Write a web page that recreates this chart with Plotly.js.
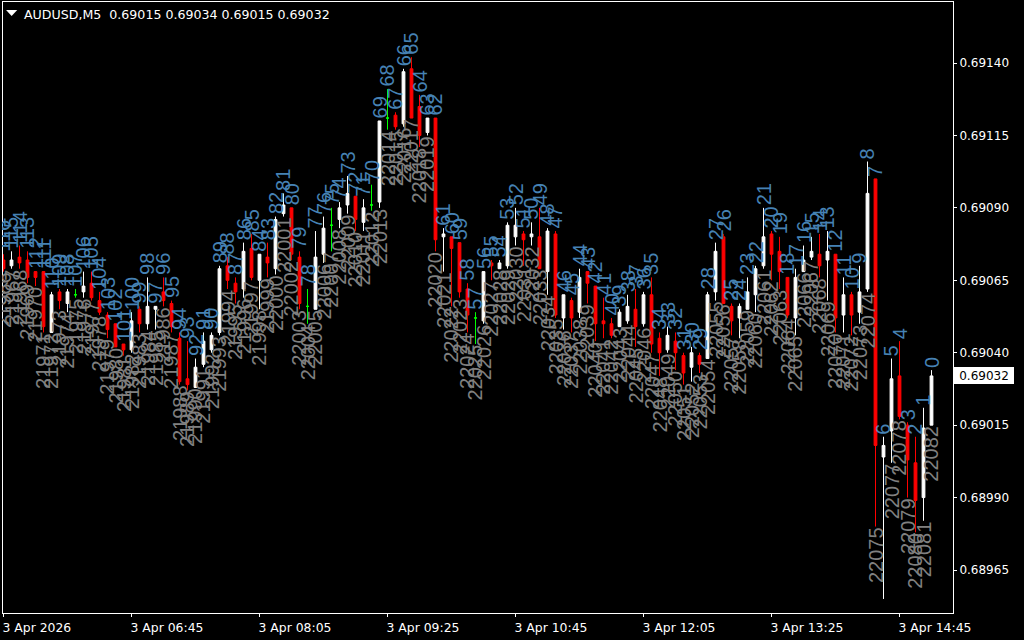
<!DOCTYPE html>
<html>
<head>
<meta charset="utf-8">
<script src="https://cdn.plot.ly/plotly-3.0.1.min.js"></script>
<style>
html,body{margin:0;padding:0;background:#000;overflow:hidden}
#chart{position:absolute;left:0;top:0;width:1024px;height:640px}
#edge{position:absolute;left:0;top:0;width:2px;height:640px;background:#000}
</style>
</head>
<body>
<div id="chart"></div>
<div id="edge"></div>
<script>
const opens = [0.69072,0.69070,0.69073,0.69072,0.69068,0.69068,0.69047,0.69061,0.69057,0.69060,
0.69061,0.69064,0.69058,0.69053,0.69050,0.69043,0.69041,0.69055,0.69050,0.69055,
0.69061,0.69057,0.69045,0.69031,0.69028,0.69036,0.69041,0.69047,0.69070,0.69064,
0.69062,0.69076,0.69065,0.69073,0.69069,0.69088,0.69090,0.69073,0.69056,0.69055,
0.69074,0.69084,0.69086,0.69091,0.69094,0.69085,0.69091,0.69092,0.69121,0.69122,
0.69119,0.69138,0.69125,0.69116,0.69121,0.69080,0.69080,0.69078,0.69062,0.69052,
0.69051,0.69071,0.69069,0.69070,0.69080,0.69081,0.69080,0.69080,0.69068,0.69081,
0.69052,0.69058,0.69054,0.69068,0.69063,0.69051,0.69050,0.69049,0.69051,0.69055,
0.69050,0.69060,0.69045,0.69041,0.69044,0.69039,0.69035,0.69039,0.69038,0.69061,
0.69080,0.69056,0.69052,0.69055,0.69060,0.69070,0.69081,0.69075,0.69066,0.69052,
0.69068,0.69073,0.69074,0.69072,0.69074,0.69053,0.69060,0.69054,0.69062,0.69100,
0.69004,0.69013,0.69032,0.69015,0.69002,0.68990,0.69015];
const highs = [0.69074,0.69075,0.69077,0.69075,0.69068,0.69068,0.69061,0.69062,0.69062,0.69062,
0.69068,0.69068,0.69061,0.69054,0.69050,0.69043,0.69054,0.69056,0.69066,0.69056,
0.69066,0.69058,0.69047,0.69044,0.69038,0.69047,0.69047,0.69070,0.69073,0.69066,
0.69078,0.69081,0.69074,0.69078,0.69087,0.69095,0.69090,0.69075,0.69062,0.69082,
0.69087,0.69090,0.69092,0.69101,0.69094,0.69093,0.69098,0.69120,0.69131,0.69123,
0.69138,0.69142,0.69129,0.69121,0.69121,0.69083,0.69080,0.69078,0.69064,0.69054,
0.69068,0.69072,0.69072,0.69085,0.69090,0.69082,0.69085,0.69090,0.69083,0.69082,
0.69060,0.69059,0.69069,0.69068,0.69063,0.69059,0.69052,0.69055,0.69060,0.69062,
0.69061,0.69066,0.69047,0.69049,0.69047,0.69040,0.69042,0.69040,0.69061,0.69078,
0.69081,0.69057,0.69057,0.69066,0.69070,0.69090,0.69082,0.69080,0.69066,0.69069,
0.69077,0.69080,0.69081,0.69082,0.69074,0.69066,0.69061,0.69070,0.69106,0.69100,
0.69011,0.69038,0.69044,0.69016,0.69011,0.69021,0.69034];
const lows = [0.69068,0.69069,0.69069,0.69064,0.69063,0.69047,0.69047,0.69055,0.69054,0.69059,
0.69059,0.69058,0.69053,0.69045,0.69042,0.69039,0.69040,0.69047,0.69048,0.69048,
0.69056,0.69047,0.69029,0.69027,0.69028,0.69035,0.69040,0.69046,0.69062,0.69057,
0.69059,0.69065,0.69055,0.69066,0.69067,0.69087,0.69072,0.69055,0.69050,0.69055,
0.69071,0.69075,0.69083,0.69088,0.69082,0.69082,0.69089,0.69090,0.69117,0.69117,
0.69118,0.69121,0.69111,0.69115,0.69075,0.69068,0.69056,0.69059,0.69047,0.69043,
0.69050,0.69065,0.69069,0.69069,0.69077,0.69070,0.69077,0.69069,0.69060,0.69052,
0.69048,0.69047,0.69052,0.69057,0.69044,0.69045,0.69045,0.69049,0.69050,0.69042,
0.69049,0.69040,0.69032,0.69040,0.69034,0.69029,0.69030,0.69033,0.69038,0.69058,
0.69057,0.69046,0.69045,0.69055,0.69054,0.69069,0.69065,0.69062,0.69052,0.69046,
0.69068,0.69072,0.69066,0.69058,0.69047,0.69047,0.69046,0.69050,0.69061,0.68980,
0.68955,0.69002,0.69017,0.68990,0.68978,0.68982,0.69015];
const closes = [0.69069,0.69072,0.69071,0.69066,0.69066,0.69049,0.69060,0.69058,0.69061,0.69060,
0.69063,0.69059,0.69054,0.69048,0.69042,0.69041,0.69051,0.69050,0.69056,0.69056,
0.69058,0.69049,0.69030,0.69029,0.69035,0.69044,0.69046,0.69069,0.69065,0.69061,
0.69075,0.69066,0.69074,0.69071,0.69086,0.69091,0.69074,0.69057,0.69056,0.69073,
0.69083,0.69084,0.69090,0.69095,0.69086,0.69090,0.69091,0.69120,0.69121,0.69118,
0.69137,0.69121,0.69115,0.69121,0.69079,0.69081,0.69076,0.69061,0.69053,0.69052,
0.69068,0.69070,0.69071,0.69084,0.69084,0.69079,0.69081,0.69069,0.69082,0.69053,
0.69060,0.69052,0.69066,0.69064,0.69050,0.69050,0.69046,0.69054,0.69056,0.69049,
0.69060,0.69043,0.69040,0.69046,0.69040,0.69033,0.69040,0.69036,0.69060,0.69075,
0.69057,0.69051,0.69056,0.69061,0.69069,0.69080,0.69074,0.69068,0.69053,0.69066,
0.69072,0.69075,0.69070,0.69075,0.69052,0.69060,0.69053,0.69061,0.69095,0.69008,
0.69008,0.69031,0.69018,0.69003,0.68989,0.69014,0.69032];
const barNumbers = [116,115,114,113,112,111,110,109,108,107,106,105,104,103,102,101,100,99,98,97,96,95,94,93,92,91,90,89,88,87,86,85,84,83,82,81,80,79,78,77,76,75,74,73,72,71,70,69,68,67,66,65,64,63,62,61,60,59,58,57,56,55,54,53,52,51,50,49,48,47,46,45,44,43,42,41,40,39,38,37,36,35,34,33,32,31,30,29,28,27,26,25,24,23,22,21,20,19,18,17,16,15,14,13,12,11,10,9,8,7,6,5,4,3,2,1,0];
const barCounts = [21966,21967,21968,21969,21970,21971,21972,21973,21974,21975,21976,21977,21978,21979,21980,21981,21982,21983,21984,21985,21986,21987,21988,21989,21990,21991,21992,21993,21994,21995,21996,21997,21998,21999,22000,22001,22002,22003,22004,22005,22006,22007,22008,22009,22010,22011,22012,22013,22014,22015,22016,22017,22018,22019,22020,22021,22022,22023,22024,22025,22026,22027,22028,22029,22030,22031,22032,22033,22034,22035,22036,22037,22038,22039,22040,22041,22042,22043,22044,22045,22046,22047,22048,22049,22050,22051,22052,22053,22054,22055,22056,22057,22058,22059,22060,22061,22062,22063,22064,22065,22066,22067,22068,22069,22070,22071,22072,22073,22074,22075,null,22077,22078,22079,22080,22081,22082];
const timeTickBars = [0,16,32,48,64,80,96,112];
const timeTickText = ["3 Apr 2026","3 Apr 06:45","3 Apr 08:05","3 Apr 09:25","3 Apr 10:45","3 Apr 12:05","3 Apr 13:25","3 Apr 14:45"];
const priceTicks = [0.69140,0.69115,0.69090,0.69065,0.69040,0.69015,0.68990,0.68965];
const headerText = "AUDUSD,M5  0.69015 0.69034 0.69015 0.69032";
const lastPrice = 0.69032;

const positions = barNumbers.map((_, k) => k);
const isDoji = k => opens[k] === closes[k];
const pick = (arr, want) => arr.filter((_, k) => isDoji(k) === want);
const candleTrace = (want, upColor, downColor) => ({
  type: 'candlestick',
  x: pick(positions, want), open: pick(opens, want), high: pick(highs, want),
  low: pick(lows, want), close: pick(closes, want),
  increasing: {line: {color: upColor, width: 1}, fillcolor: upColor},
  decreasing: {line: {color: downColor, width: 1}, fillcolor: downColor},
  whiskerwidth: 0, hoverinfo: 'skip', showlegend: false
});

const annotations = [];
positions.forEach(k => {
  annotations.push({x: k, y: highs[k], xref: 'x', yref: 'y', text: String(barNumbers[k]),
    showarrow: false, textangle: -90, xanchor: 'center', yanchor: 'bottom', yshift: 2,
    borderpad: 0, borderwidth: 0, font: {family: 'Liberation Sans', size: 20, color: '#4682B4'}});
  if (barCounts[k] !== null) annotations.push({x: k, y: lows[k], xref: 'x', yref: 'y', text: String(barCounts[k]),
    showarrow: false, textangle: -90, xanchor: 'center', yanchor: 'top', yshift: -1,
    borderpad: 0, borderwidth: 0, font: {family: 'Liberation Sans', size: 20, color: '#808080'}});
});
annotations.push({xref: 'paper', x: 1.0015, xanchor: 'left', yref: 'y', y: lastPrice, yanchor: 'middle',
  text: lastPrice.toFixed(5), showarrow: false, bgcolor: '#ffffff', width: 60, height: 17, align: 'center',
  borderpad: 0, borderwidth: 0, font: {family: 'DejaVu Sans', size: 12, color: '#000000'}});

const layout = {
  width: 1024, height: 640, autosize: false,
  paper_bgcolor: '#000000', plot_bgcolor: '#000000',
  margin: {l: 3, r: 71, t: 2, b: 27, pad: 0},
  boxgap: 0.5, showlegend: false,
  title: {text: headerText, x: 24/1024, xref: 'container', xanchor: 'left', y: 1-14.5/640, yref: 'container', yanchor: 'middle',
    font: {family: 'DejaVu Sans', size: 12.6, color: '#ffffff'}},
  xaxis: {type: 'linear', range: [-0.0625, 118.6875], rangeslider: {visible: false},
    tickvals: timeTickBars, ticktext: timeTickText, ticks: 'outside', ticklen: 3, tickcolor: '#ffffff', tickwidth: 1,
    ticklabelposition: 'outside right', ticklabelstandoff: 3, ticklabelshift: -2,
    tickfont: {family: 'DejaVu Sans', size: 12.4, color: '#ffffff'},
    showgrid: false, zeroline: false, showline: true, linecolor: '#ffffff', linewidth: 1, mirror: true},
  yaxis: {type: 'linear', range: [0.6895016, 0.6916106], side: 'right',
    tickvals: priceTicks, tickformat: '.5f', ticks: 'outside', ticklen: 3, tickcolor: '#ffffff', tickwidth: 1,
    tickfont: {family: 'DejaVu Sans', size: 12, color: '#ffffff'},
    showgrid: false, zeroline: false, showline: true, linecolor: '#ffffff', linewidth: 1, mirror: true},
  shapes: [{type: 'path', xref: 'paper', yref: 'paper', path: 'M 0.0032 0.987 L 0.0150 0.987 L 0.0091 0.977 Z',
    fillcolor: '#ffffff', line: {width: 0}}],
  annotations: annotations
};

Plotly.newPlot('chart', [candleTrace(false, '#ffffff', '#ff0000'), candleTrace(true, '#00ff00', '#00ff00')], layout, {staticPlot: true, displayModeBar: false});
</script>
</body>
</html>
